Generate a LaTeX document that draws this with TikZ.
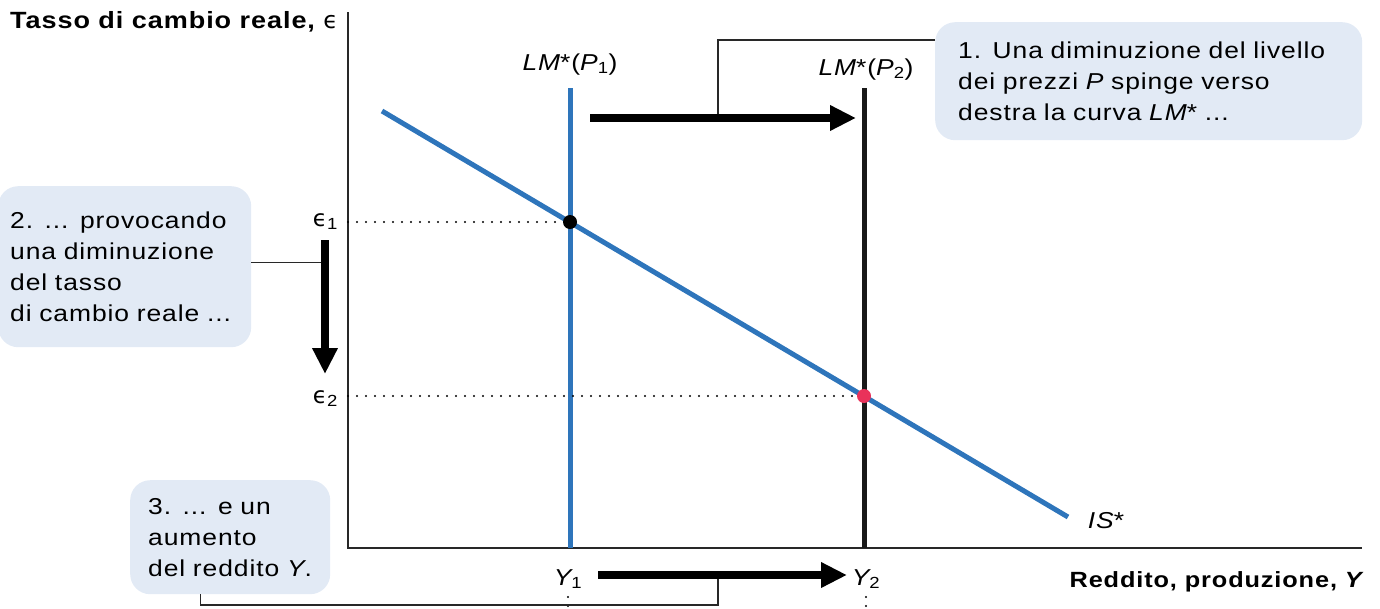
\documentclass[tikz,border=0pt]{standalone}
\usepackage{fontspec}
\setmainfont{Liberation Sans}[FakeStretch=1.15,LetterSpace=4]
\newfontfamily\epsfont{DejaVu Sans}
\newcommand\lunate{{\epsfont ϵ}}
\usetikzlibrary{arrows.meta}

\definecolor{curveblue}{RGB}{46,117,187}
\definecolor{noteblue}{RGB}{226,234,245}
\definecolor{eqpink}{RGB}{233,50,90}
\definecolor{inkgray}{RGB}{40,40,40}

\tikzset{
  note/.style={fill=noteblue, rounded corners=20pt, anchor=north west, align=left,
    inner ysep=0pt, font=\fontsize{23}{31}\selectfont},
  lead/.style={line width=1.3pt, inkgray},
  shiftarrow/.style={line width=7.5pt, -{Triangle[length=26pt,width=24pt]}},
  guide/.style={line width=2.4pt, line cap=round, dash pattern=on 0pt off 9pt},
  eqdot/.style={circle, inner sep=0pt, minimum size=14pt},
  lab/.style={font=\fontsize{23}{26}\selectfont, inner sep=0pt},
  curve/.style={line width=5pt},
}

\begin{document}
\begin{tikzpicture}[x=1pt,y=-1pt]
\useasboundingbox (0,0) rectangle (1380,608);

% axes
\coordinate (origin) at (348,548);
\draw[line width=1.5pt, inkgray] (348,12) -- (origin) -- (1362,548);
\node[lab, font=\bfseries\fontsize{23.5}{26}\selectfont, anchor=base west] (ylab) at (10,28) {Tasso di cambio reale, {\mdseries\lunate}};
\node[lab, font=\bfseries\fontsize{22}{26}\selectfont, anchor=base east] (xlab) at (1362,587) {Reddito, produzione, {\itshape Y}};

% LM* curves and IS* curve
\coordinate (lmAtop) at (570,88); \coordinate (lmAbot) at (570,548);
\coordinate (lmBtop) at (864,88); \coordinate (lmBbot) at (864,548);
\coordinate (isA) at (382,111); \coordinate (isB) at (1068,517);
\draw[curve, curveblue] (lmAtop) -- (lmAbot);
\draw[curve, black!90] (lmBtop) -- (lmBbot);
\draw[curve, curveblue] (isA) -- (isB);
\node[lab, anchor=base] (lmAlab) at (570,70) {{\itshape LM}*({\itshape P}\textsubscript{1})};
\node[lab, anchor=base] (lmBlab) at (866,75) {{\itshape LM}*({\itshape P}\textsubscript{2})};
\node[lab, anchor=base] (islab) at (1106,528) {{\itshape IS}*};

% equilibria
\node[eqdot, fill=black] (eqA) at (570,222) {};
\node[eqdot, fill=eqpink] (eqB) at (864,396) {};
\draw[guide] (origin |- eqA) -- (eqA);
\draw[guide] (origin |- eqB) -- (eqB);
\node[lab, anchor=base east] (epsA) at (338,226) {\lunate\textsubscript{1}};
\node[lab, anchor=base east] (epsB) at (338,403) {\lunate\textsubscript{2}};
\node[lab, anchor=base] (yA) at (568,585) {{\itshape Y}\textsubscript{1}};
\node[lab, anchor=base] (yB) at (866,585) {{\itshape Y}\textsubscript{2}};
\draw[guide] (568,597) -- (568,606);
\draw[guide] (866,597) -- (866,606);

% callouts
\node[note, text width=381pt, inner xsep=23pt, minimum height=118pt] (note1) at (935,22)
  {1. Una diminuzione del livello\\dei prezzi {\itshape P} spinge verso\\destra la curva {\itshape LM}* ...};
\node[note, text width=229pt, inner xsep=12pt, minimum height=161pt] (note2) at (-2,186)
  {2. ... provocando\\una diminuzione\\del tasso\\di cambio reale ...};
\node[note, text width=164pt, inner xsep=18pt, minimum height=114pt] (note3) at (130,480)
  {3. ... e un\\aumento\\del reddito {\itshape Y}.};

% shifts
\coordinate (lmShiftL) at (590,118); \coordinate (lmShiftR) at (856,118);
\coordinate (epsTop) at (325,240); \coordinate (epsBot) at (325,374);
\coordinate (yShiftL) at (598,575); \coordinate (yShiftR) at (847,575);
\coordinate (topKnee) at (718,118);
\coordinate (botKnee) at (718,605); \coordinate (botMid) at (718,575);
\draw[lead] ([yshift=-18pt]note1.north west) -| (topKnee);
\draw[lead] ([yshift=4pt]note2.east) -- ([yshift=4pt]note2.east -| epsTop);
\draw[lead] ([xshift=-30pt]note3.south) |- (botKnee) -- (botMid);
\draw[shiftarrow] (lmShiftL) -- (lmShiftR);
\draw[shiftarrow] (epsTop) -- (epsBot);
\draw[shiftarrow] (yShiftL) -- (yShiftR);
\end{tikzpicture}
\end{document}
